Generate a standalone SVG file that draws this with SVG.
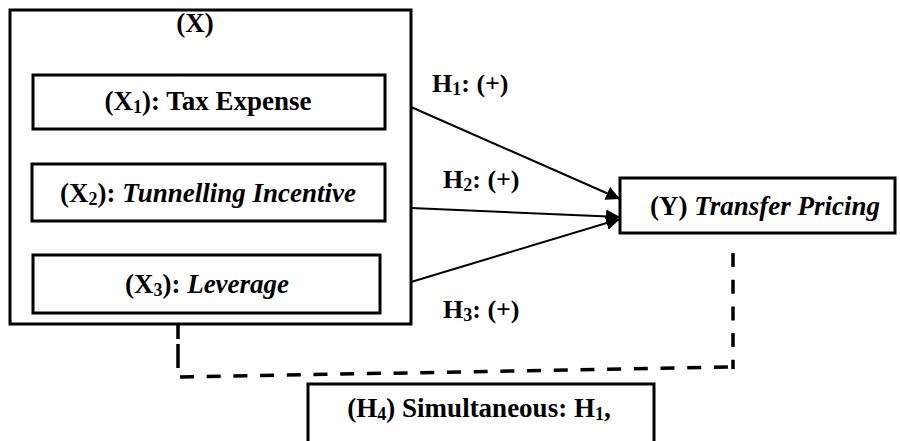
<svg xmlns="http://www.w3.org/2000/svg" width="900" height="441" viewBox="0 0 900 441">
<defs>
<style>
.box{fill:#fff;stroke:#000;stroke-width:3}
.t{font-family:"Liberation Serif","Times New Roman",serif;font-weight:bold;font-size:27px;fill:#000}
.h{font-family:"Liberation Serif","Times New Roman",serif;font-weight:bold;font-size:26px;fill:#000}
.i{font-style:italic}
.s{font-size:18px}
.dash{stroke:#000;stroke-width:3.5;fill:none;stroke-dasharray:14 12.7}
</style>
<marker id="ah" viewBox="0 0 10 10" refX="10" refY="5" markerWidth="7" markerHeight="7" orient="auto">
<path d="M0,0 L10,5 L0,10 z" fill="#000"/>
</marker>
</defs>
<rect width="900" height="441" fill="#fff"/>
<g id="connectors">
<line x1="411" y1="107" x2="620" y2="199" stroke="#000" stroke-width="2" marker-end="url(#ah)"/>
<line x1="411" y1="208" x2="620" y2="217" stroke="#000" stroke-width="2" marker-end="url(#ah)"/>
<line x1="411" y1="282" x2="620" y2="219" stroke="#000" stroke-width="2" marker-end="url(#ah)"/>
<path d="M178,325 V377" stroke="#000" stroke-width="3.5" fill="none" stroke-dasharray="14 5 24 10"/>
<path class="dash" d="M180,377 L733,367"/>
<path class="dash" d="M733,253 V369"/>
<text class="h" x="432" y="92">H<tspan class="s" dy="3">1</tspan><tspan dy="-3">: (+)</tspan></text>
<text class="h" x="443" y="188">H<tspan class="s" dy="3">2</tspan><tspan dy="-3">: (+)</tspan></text>
<text class="h" x="443" y="318">H<tspan class="s" dy="3">3</tspan><tspan dy="-3">: (+)</tspan></text>
</g>
<g id="X">
<rect class="box" x="10" y="10" width="401" height="314"/>
<text class="t" x="195" y="32" text-anchor="middle">(X)</text>
</g>
<g id="X1">
<rect class="box" x="33" y="75" width="352" height="54"/>
<text class="t" x="208" y="110" text-anchor="middle">(X<tspan class="s" dy="3">1</tspan><tspan dy="-3">): Tax Expense</tspan></text>
</g>
<g id="X2">
<rect class="box" x="32" y="164" width="353" height="57"/>
<text class="t" x="208" y="202" text-anchor="middle">(X<tspan class="s" dy="3">2</tspan><tspan dy="-3">): </tspan><tspan class="i">Tunnelling Incentive</tspan></text>
</g>
<g id="X3">
<rect class="box" x="33" y="255" width="347" height="58"/>
<text class="t" x="207" y="293" text-anchor="middle">(X<tspan class="s" dy="3">3</tspan><tspan dy="-3">): </tspan><tspan class="i">Leverage</tspan></text>
</g>
<g id="Y">
<rect class="box" x="620" y="178" width="275" height="55"/>
<text class="t" x="765" y="215" text-anchor="middle">(Y) <tspan class="i">Transfer Pricing</tspan></text>
</g>
<g id="H4">
<rect class="box" x="308" y="384" width="346" height="80"/>
<text class="t" x="479" y="417" text-anchor="middle">(H<tspan class="s" dy="3">4</tspan><tspan dy="-3">) Simultaneous: H</tspan><tspan class="s" dy="3">1</tspan><tspan dy="-3">,</tspan></text>
</g>
</svg>
